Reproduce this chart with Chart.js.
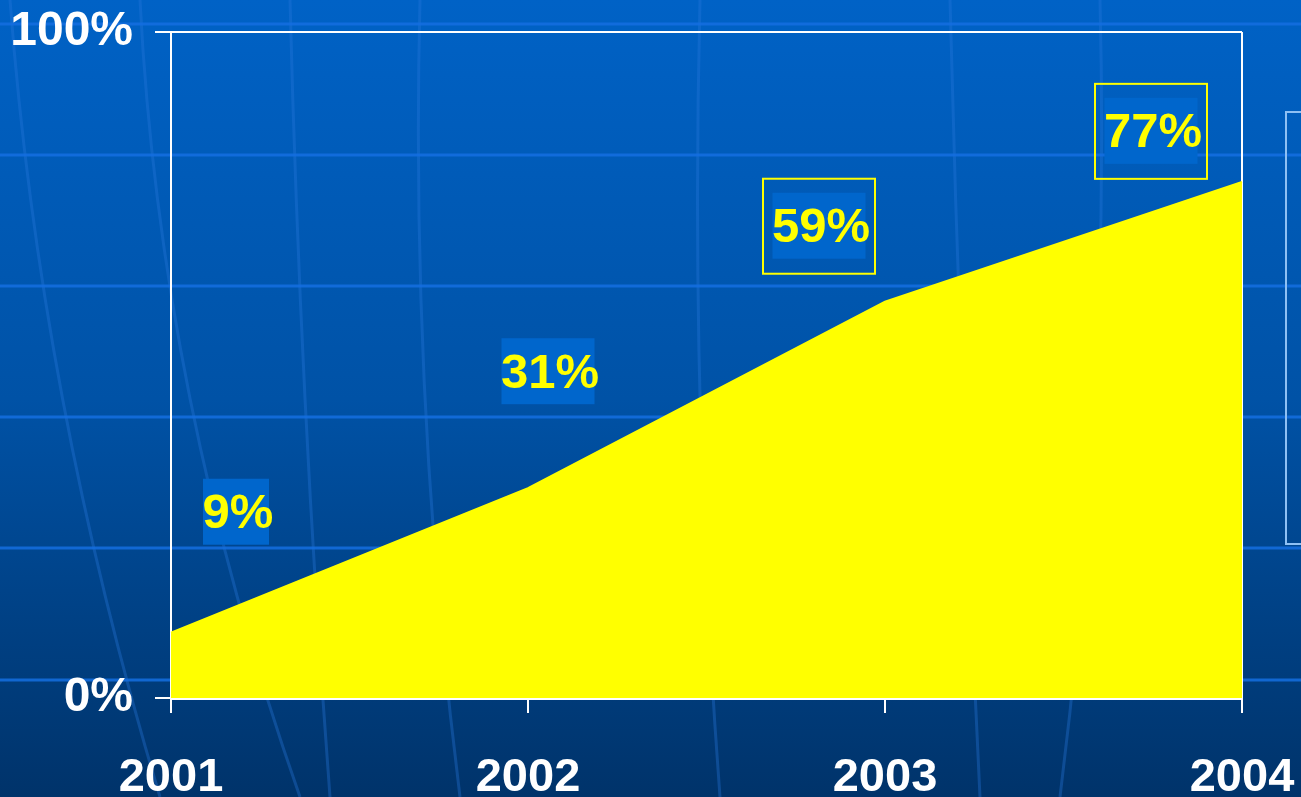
<!DOCTYPE html>
<html>
<head>
<meta charset="utf-8">
<script src="https://cdn.jsdelivr.net/npm/chart.js@4"></script>
<style>
html,body{margin:0;padding:0;background:#004a98;overflow:hidden;}
canvas{display:block;}
</style>
</head>
<body>
<canvas id="c" width="1301" height="797"></canvas>
<script>
// ---- data ----
const years = ["2001", "2002", "2003", "2004"];
const shares = [9.8, 31.5, 59.5, 77.5];          // area heights (%)
const shareLabels = ["9%", "31%", "59%", "77%"]; // printed value labels
const yTickValues = [0, 100];

const FONT = '"Liberation Sans", Arial, sans-serif';

const bgPlugin = {
  id: 'bg',
  beforeDraw(chart) {
    const ctx = chart.ctx, W = chart.width, H = chart.height;
    ctx.save();
    const g = ctx.createLinearGradient(0, 0, 0, H);
    g.addColorStop(0, '#0062c6');
    g.addColorStop(0.5, '#0052a6');
    g.addColorStop(1, '#00336a');
    ctx.fillStyle = g;
    ctx.fillRect(0, 0, W, H);
    // faint meridian curves
    ctx.strokeStyle = 'rgba(40,120,220,0.35)';
    ctx.lineWidth = 3;
    const mer = [[10, 40, 160], [140, 160, 300], [290, 300, 330], [420, 410, 460], [700, 690, 720], [950, 960, 980], [1100, 1110, 1060]];
    mer.forEach(m => {
      ctx.beginPath();
      ctx.moveTo(m[0], 0);
      ctx.quadraticCurveTo(m[1], H * 0.5, m[2], H);
      ctx.stroke();
    });
    // horizontal light bands
    ctx.strokeStyle = 'rgba(20,110,225,0.85)';
    ctx.lineWidth = 3;
    [24, 155, 286, 417, 548, 680].forEach(y => {
      ctx.beginPath();
      ctx.moveTo(0, y);
      ctx.lineTo(W, y);
      ctx.stroke();
    });
    // empty legend frame on right
    ctx.strokeStyle = '#8ec0f4';
    ctx.lineWidth = 2;
    ctx.strokeRect(1286, 112, 40, 432);
    ctx.restore();
  }
};

const framePlugin = {
  id: 'frame',
  beforeDatasetsDraw(chart) {
    const { ctx, chartArea: a } = chart;
    ctx.save();
    ctx.strokeStyle = '#ffffff';
    ctx.lineWidth = 2;
    ctx.beginPath();
    ctx.moveTo(a.left, a.top);
    ctx.lineTo(a.right, a.top);
    ctx.moveTo(a.right, a.top);
    ctx.lineTo(a.right, a.bottom);
    ctx.stroke();
    ctx.restore();
  },
  afterDatasetsDraw(chart) {
    const { ctx, chartArea: a } = chart;
    ctx.save();
    ctx.strokeStyle = '#ffffff';
    ctx.lineWidth = 2;
    ctx.beginPath();
    ctx.moveTo(a.left, a.bottom + 1);
    ctx.lineTo(a.right, a.bottom + 1);
    ctx.stroke();
    ctx.restore();
  }
};

// value label boxes: offsets relative to each data point, and whether framed
const labelPlugin = {
  id: 'valLabels',
  afterDatasetsDraw(chart, args, opts) {
    const ctx = chart.ctx;
    const meta = chart.getDatasetMeta(0);
    ctx.save();
    ctx.font = 'bold 49px ' + FONT;
    ctx.textAlign = 'center';
    ctx.textBaseline = 'middle';
    meta.data.forEach((pt, i) => {
      const o = opts.offsets[i];
      const cx = pt.x + o[0], cy = pt.y + o[1];
      const txt = shareLabels[i];
      const w = o[2], h = 66;
      if (o[3]) {
        ctx.strokeStyle = '#ffff00';
        ctx.lineWidth = 2;
        ctx.strokeRect(cx - 56, cy - 47, 112, 95);
      }
      ctx.fillStyle = '#0066cc';
      ctx.fillRect(cx - w / 2, cy - h / 2, w, h);
      ctx.fillStyle = '#ffff00';
      ctx.fillText(txt, cx + 2, cy + 3);
    });
    ctx.restore();
  }
};

new Chart(document.getElementById('c'), {
  type: 'line',
  data: {
    labels: years,
    datasets: [{
      data: shares,
      fill: 'origin',
      backgroundColor: '#ffff00',
      borderColor: '#ffff00',
      borderWidth: 2,
      tension: 0,
      pointRadius: 0
    }]
  },
  plugins: [bgPlugin, framePlugin, labelPlugin],
  options: {
    responsive: false,
    animation: false,
    devicePixelRatio: 1,
    layout: { padding: { top: 32, right: 59, left: 0, bottom: 0 } },
    plugins: {
      legend: { display: false },
      tooltip: { enabled: false },
      valLabels: {
        offsets: [[65, -121, 66, false], [20, -117, 93, false], [-66, -76, 93, true], [-91, -51, 93, true]]
      }
    },
    scales: {
      x: {
        type: 'category',
        offset: false,
        afterFit(s) { s.height = 99; s.paddingLeft = 0; s.paddingRight = 0; },
        grid: { drawOnChartArea: false, drawTicks: true, tickLength: 15, color: '#ffffff', lineWidth: 2 },
        border: { display: true, color: '#ffffff', width: 2 },
        ticks: {
          color: '#ffffff', padding: 37, maxRotation: 0, autoSkip: false,
          font: { family: FONT, size: 47, weight: 'bold' }
        }
      },
      y: {
        min: 0, max: 100,
        afterFit(s) { s.width = 171; s.paddingTop = 0; s.paddingBottom = 0; },
        afterBuildTicks(s) { s.ticks = yTickValues.map(v => ({ value: v })); },
        grid: { drawOnChartArea: false, drawTicks: true, tickLength: 16, color: '#ffffff', lineWidth: 2 },
        border: { display: true, color: '#ffffff', width: 2 },
        ticks: {
          color: '#ffffff', padding: 22,
          font: { family: FONT, size: 48, weight: 'bold' },
          callback: v => v + '%'
        }
      }
    }
  }
});
</script>
</body>
</html>
